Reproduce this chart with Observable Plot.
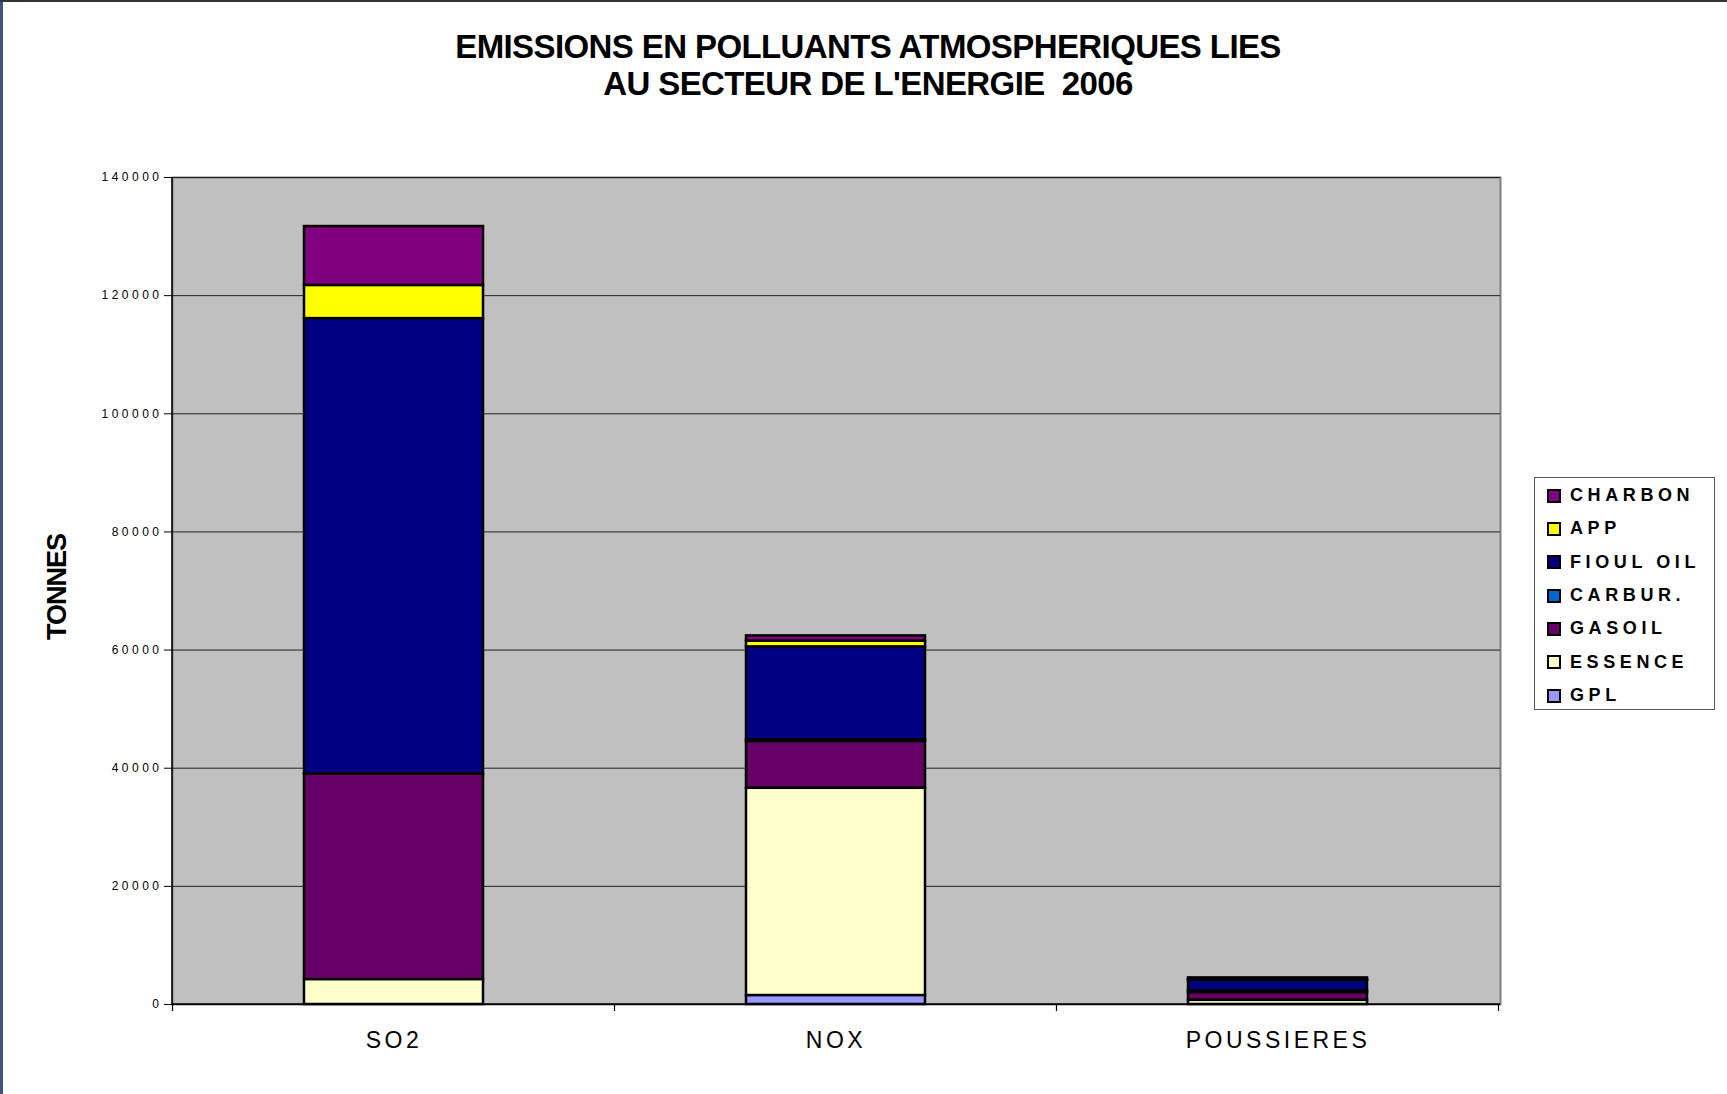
<!DOCTYPE html>
<html><head><meta charset="utf-8">
<script src="https://cdn.jsdelivr.net/npm/d3@7"></script>
<script src="https://cdn.jsdelivr.net/npm/@observablehq/plot@0.6"></script>
<style>
body{margin:0;background:#fff;font-family:"Liberation Sans",Arial,sans-serif;}
#page{position:relative;width:1727px;height:1094px;overflow:hidden;background:#fff;}
#bl{position:absolute;left:0;top:0;width:3px;height:1094px;background:#3b5478;}
#bt{position:absolute;left:0;top:0;width:1727px;height:2px;background:#333;}
#title{height:130px;box-sizing:border-box;padding-top:28px;padding-left:9px;text-align:center;font-weight:bold;font-size:33px;line-height:37px;letter-spacing:-0.6px;color:#000;}
#ylab{position:absolute;left:57px;top:587px;transform:translate(-50%,-50%) rotate(-90deg);font-weight:bold;font-size:27px;letter-spacing:-1px;white-space:nowrap;}
#legend{position:absolute;left:1534px;top:477px;width:181px;height:233px;box-sizing:border-box;border:1px solid #555;background:#fff;}
.li{position:absolute;left:12px;height:20px;display:flex;align-items:center;font-weight:bold;font-size:18px;letter-spacing:4.6px;white-space:nowrap;}
.sw{width:10px;height:10px;border:2px solid #000;margin-right:9px;}
svg [aria-label="y-axis tick label"] text{letter-spacing:3.5px;}
svg [aria-label="x-axis tick label"] text{letter-spacing:3.5px;}
</style></head>
<body><div id="page">
<div id="title">EMISSIONS EN POLLUANTS ATMOSPHERIQUES LIES<br>AU SECTEUR DE L'ENERGIE&nbsp; 2006</div>
<div id="chart"></div>
<div id="ylab">TONNES</div>
<div id="legend"></div>
<div id="bl"></div><div id="bt"></div>
</div>
<script>
const categories = ["SO2", "NOX", "POUSSIERES"];
const series = ["CHARBON", "APP", "FIOUL OIL", "CARBUR.", "GASOIL", "ESSENCE", "GPL"];
const seriesColors = ["#800080", "#FFFF00", "#000080", "#0066CC", "#660066", "#FFFFCC", "#9999FF"];
const charbon = [10000, 900, 300];
const app = [5600, 1000, 100];
const fioulOil = [77100, 15700, 1800];
const carbur = [0, 300, 300];
const gasoil = [34800, 7900, 1300];
const essence = [4200, 35100, 700];
const gpl = [0, 1500, 0];
const yTicks = [0, 20000, 40000, 60000, 80000, 100000, 120000, 140000];

const seriesValues = [charbon, app, fioulOil, carbur, gasoil, essence, gpl];
const rows = [];
categories.forEach((c, i) => series.forEach((s, j) => {
  const v = seriesValues[j][i];
  if (v > 0) rows.push({cat: c, series: s, value: v});
}));
const stackOrder = series.slice().reverse();

function axisDecor(index, scales, values, dims) {
  const g = d3.create("svg:g");
  const x = scales.x;
  const left = dims.marginLeft, right = dims.width - dims.marginRight;
  const bottom = dims.height - dims.marginBottom, top = dims.marginTop;
  const step = (typeof x.step === "function") ? x.step() : (x(categories[1]) - x(categories[0]));
  const bw = (typeof x.bandwidth === "function") ? x.bandwidth() : 0;
  const bounds = categories.map(c => x(c) + bw / 2 - step / 2);
  bounds.push(x(categories[categories.length - 1]) + bw / 2 + step / 2);
  bounds.forEach(b => g.append("line").attr("x1", b).attr("x2", b).attr("y1", bottom).attr("y2", bottom + 7).attr("stroke", "#000").attr("stroke-width", 1.2));
  g.append("line").attr("x1", left).attr("x2", left).attr("y1", top).attr("y2", bottom).attr("stroke", "#000").attr("stroke-width", 1.5);
  g.append("line").attr("x1", left).attr("x2", right).attr("y1", bottom).attr("y2", bottom).attr("stroke", "#000").attr("stroke-width", 1.5);
  return g.node();
}

const chart = Plot.plot({
  width: 1727, height: 964,
  marginTop: 47, marginLeft: 172, marginRight: 227, marginBottom: 90,
  style: {background: "transparent", fontFamily: "Liberation Sans, Arial, sans-serif", color: "#000"},
  x: {domain: categories, paddingInner: 0.595, paddingOuter: 0.2975, label: null},
  y: {domain: [0, 140000], label: null},
  color: {domain: series, range: seriesColors},
  marks: [
    Plot.frame({fill: "#C0C0C0", stroke: "#808080", strokeWidth: 2}),
    Plot.gridY(yTicks, {stroke: "#222", strokeOpacity: 1, strokeWidth: 1}),
    Plot.axisY({ticks: yTicks, tickSize: 8, tickPadding: 2, tickFormat: d => String(d), fontSize: 12, label: null}),
    Plot.axisX({tickSize: 0, tickPadding: 27, fontSize: 23, label: null}),
    Plot.barY(rows, Plot.stackY({x: "cat", y: "value", fill: "series", order: stackOrder, stroke: "#000", strokeWidth: 2.5})),
    axisDecor
  ]
});
document.getElementById("chart").appendChild(chart);

const legend = document.getElementById("legend");
series.forEach((s, i) => {
  const d = document.createElement("div");
  d.className = "li";
  d.style.top = (7.5 + i * 30.3 * 1.1014) + "px";
  const sw = document.createElement("div");
  sw.className = "sw";
  sw.style.background = seriesColors[i];
  d.appendChild(sw);
  d.appendChild(document.createTextNode(s));
  legend.appendChild(d);
});
</script>
</body></html>
